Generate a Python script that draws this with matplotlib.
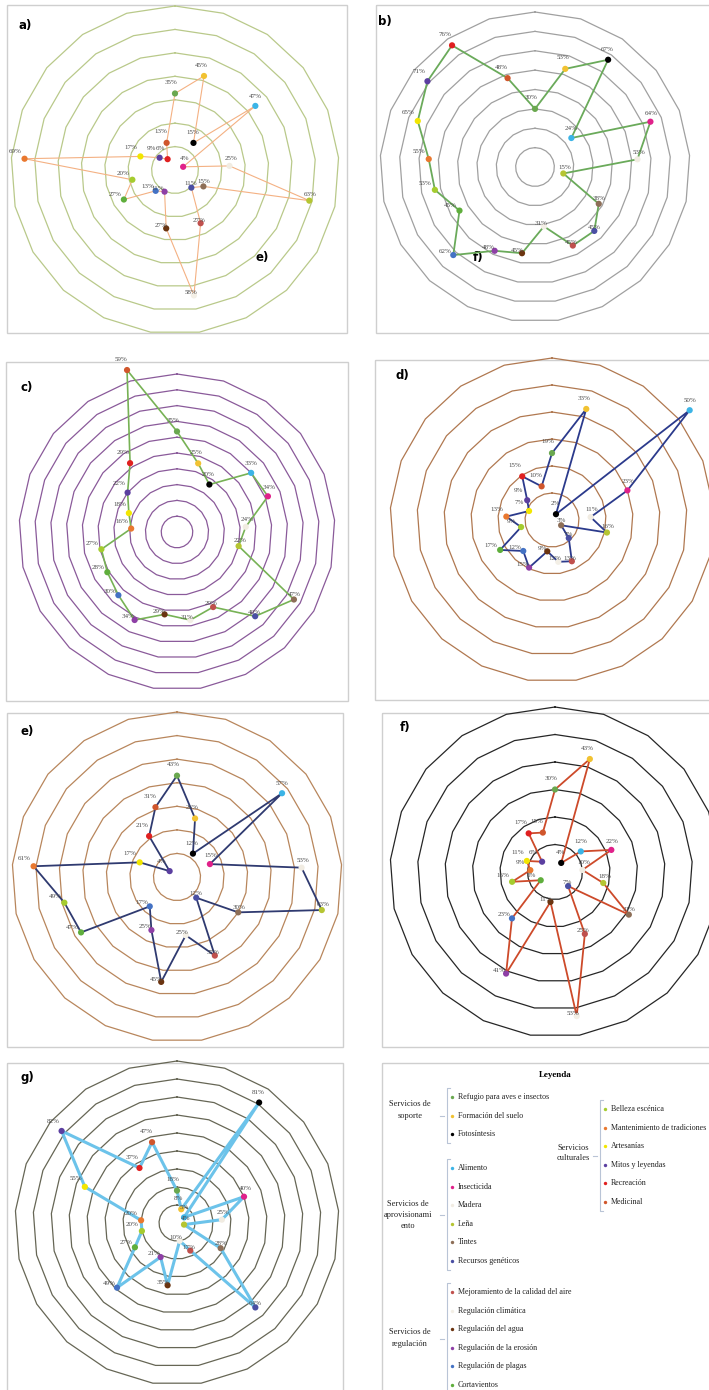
import numpy as np
import matplotlib.pyplot as plt
from matplotlib.patches import Rectangle

W, H = 709, 1390

servicios = ["Refugio para aves e insectos", "Formación del suelo", "Fotosíntesis",
             "Alimento", "Insecticida", "Madera", "Leña", "Tintes", "Recursos genéticos",
             "Mejoramiento de la calidad del aire", "Regulación climática",
             "Regulación del agua", "Regulación de la erosión", "Regulación de plagas",
             "Cortavientos", "Belleza escénica", "Mantenimiento de tradiciones",
             "Artesanías", "Mitos y leyendas", "Recreación", "Medicinal"]
colores = ["#6aa84f", "#f1c232", "#000000", "#3cb4e6", "#e0218a", "#f1ece2", "#b5c532",
           "#8d6e57", "#4a4fa3", "#c0504d", "#f3efe6", "#6b3410", "#8e3fa6", "#4472c4",
           "#5fae3c", "#a5cc2f", "#e9782f", "#f2e600", "#5b3fa0", "#e02020", "#d0562c"]
grupos = [("Servicios de\nsoporte", 0, 3),
          ("Servicios de\naprovisionami\nento", 3, 9),
          ("Servicios de\nregulación", 9, 15),
          ("Servicios\nculturales", 15, 21)]

# porcentaje por servicio, en el orden de la lista de servicios
val_a = [35, 45, 15, 47, 4, 25, 63, 15, 11, 27, 58, 27, 11, 13, 27, 20, 69, 17, 9, 6, 13]
val_b = [30, 53, 67, 24, 64, 53, 15, 38, 45, 45, 31, 45, 48, 62, 45, 53, 55, 65, 71, 76, 48]
val_c = [35, 25, 20, 33, 34, 24, 22, 47, 40, 29, 31, 29, 34, 30, 28, 27, 16, 18, 22, 29, 59]
val_d = [19, 33, 2, 50, 23, 11, 16, 3, 7, 13, 12, 9, 15, 12, 17, 9, 13, 7, 9, 15, 10]
val_e = [43, 26, 12, 57, 15, 53, 63, 30, 12, 37, 25, 45, 25, 17, 47, 49, 61, 17, 4, 21, 31]
val_f = [30, 43, 4, 12, 22, 10, 18, 31, 7, 25, 53, 11, 41, 23, 6, 16, 9, 11, 6, 17, 15]
val_g = [18, 8, 81, 5, 40, 25, 4, 28, 64, 17, 10, 35, 21, 49, 27, 20, 20, 55, 82, 37, 47]

fig = plt.figure(figsize=(W / 100, H / 100), dpi=100)
fig.patch.set_facecolor("white")

bg = fig.add_axes([0, 0, 1, 1])
bg.set_xlim(0, W)
bg.set_ylim(H, 0)
bg.axis("off")

# marcos de cada panel
cajas = [(7, 5, 340, 328), (376, 5, 345, 328), (6, 362, 342, 339), (375, 360, 345, 340),
         (7, 713, 336, 334), (382, 713, 340, 334), (7, 1063, 336, 340), (382, 1063, 340, 340)]
for x, y, w, h in cajas:
    bg.add_patch(Rectangle((x, y), w, h, fill=False, ec="#cfcfcf", lw=1.0))


def radar(letra, valores, cx, cy, ring_px, ring_max, n_rings, ring_col, line_col, lw):
    escala = ring_px / ring_max
    rtop = ring_max * 1.3
    R = rtop * escala
    ax = fig.add_axes([(cx - R) / W, 1 - (cy + R) / H, 2 * R / W, 2 * R / H],
                      projection="polar")
    ax.set_theta_zero_location("N")
    ax.set_theta_direction(-1)
    ax.set_ylim(0, rtop)
    ax.set_axis_off()
    ax.patch.set_alpha(0)

    ang = np.arange(len(servicios)) * 2 * np.pi / len(servicios)
    ang_c = np.append(ang, ang[0])
    for k in range(1, n_rings + 1):
        ax.plot(ang_c, np.full(len(ang_c), ring_max * k / n_rings), color=ring_col,
                lw=0.9, clip_on=False, zorder=1)

    v = np.array(valores)
    ax.plot(ang_c, np.append(v, v[0]), color=line_col, lw=lw, clip_on=False, zorder=3)
    ax.scatter(ang, v, c=colores, s=20, zorder=4, clip_on=False, linewidths=0)
    for a, val in zip(ang, v):
        ax.annotate(f"{val}%", (a, val), xytext=(4 * np.sin(a) - 3, 3 * np.cos(a) + 5),
                    textcoords="offset points", ha="center", va="center", fontsize=5,
                    family="Liberation Serif", color="#4a4a4a", zorder=5,
                    annotation_clip=False)

    bg.text(cx - 150, cy - 145, letra, fontsize=8.5, fontweight="bold", ha="center",
            va="center")


radar("a)", val_a, 175, 170, 164, 75, 7, "#b9c98a", "#f4b183", 0.8)
radar("b)", val_b, 535, 167, 155, 80, 8, "#a0a0a0", "#6aaa5a", 1.3)
radar("c)", val_c, 177, 532, 158, 55, 10, "#8a5a9a", "#77b255", 1.2)
radar("d)", val_d, 552, 520, 162, 46, 6, "#b07850", "#2b3a8c", 1.3)
radar("e)", val_e, 177, 877, 165, 70, 7, "#b8865c", "#2f3a70", 1.3)
radar("f)", val_f, 555, 872, 165, 60, 6, "#262626", "#cd4a2a", 1.3)
radar("g)", val_g, 177, 1223, 162, 90, 9, "#666655", "#6cc3ea", 2.2)

# etiquetas sueltas que quedaron dentro de los paneles a y b
bg.text(262, 257, "e)", fontsize=8.5, fontweight="bold", ha="center", va="center")
bg.text(478, 258, "f)", fontsize=8.5, fontweight="bold", ha="center", va="center")

# leyenda
serif = "Liberation Serif"
bg.text(555, 1075, "Leyenda", fontsize=6.5, fontweight="bold", family=serif,
        ha="center", va="center")

pos_items = {0: (452, 1097), 3: (452, 1168), 9: (452, 1292), 15: (605, 1109)}
pos_grupo = [(410, 1110), (408, 1215), (410, 1338), (573, 1153)]
paso = 18.6
for (nombre, i0, i1), (gx, gy) in zip(grupos, pos_grupo):
    mx, y0 = pos_items[i0]
    ys = y0 + paso * np.arange(i1 - i0)
    bg.text(gx, gy, nombre, fontsize=6, family=serif, ha="center", va="center",
            linespacing=1.5, color="#222222")
    bx = mx - 5
    bg.plot([bx + 3, bx, bx, bx + 3], [ys[0] - 9, ys[0] - 9, ys[-1] + 9, ys[-1] + 9],
            color="#b9c4d6", lw=0.8)
    bg.plot([bx - 7, bx - 3], [(ys[0] + ys[-1]) / 2] * 2, color="#b9c4d6", lw=0.8)
    for k, y in zip(range(i0, i1), ys):
        bg.scatter([mx], [y], s=6, color=colores[k], zorder=3, linewidths=0)
        bg.text(mx + 6, y, servicios[k], fontsize=5.8, family=serif, ha="left",
                va="center", color="#222222")

fig.savefig("out.png", dpi=100)
